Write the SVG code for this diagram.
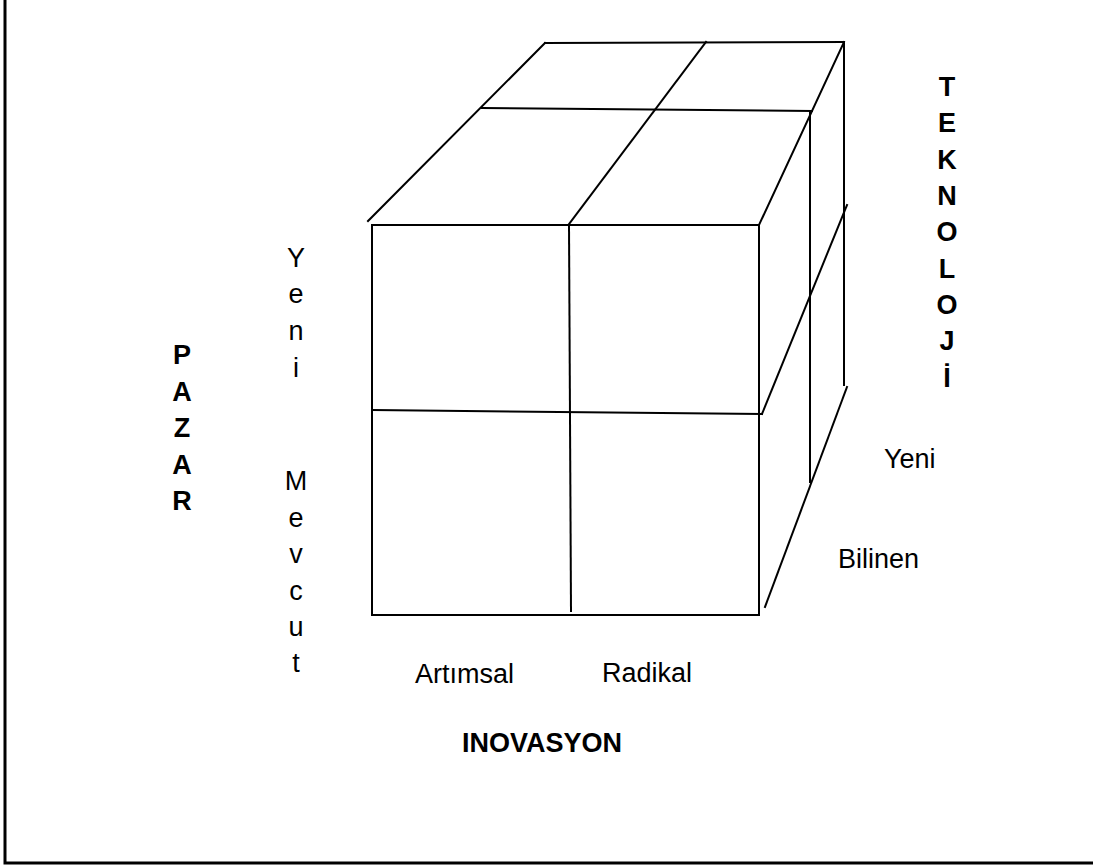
<svg xmlns="http://www.w3.org/2000/svg" width="1093" height="867" viewBox="0 0 1093 867">
<style>
.ln{stroke:#000;stroke-width:2;fill:none;stroke-linecap:square}
.bd{stroke:#000;stroke-width:3;fill:none}
.t{font-family:"Liberation Sans",Arial,sans-serif;font-size:27px;fill:#000}
.b{font-family:"Liberation Sans",Arial,sans-serif;font-size:27px;font-weight:bold;fill:#000}
.c{text-anchor:middle}
</style>
<rect width="1093" height="867" fill="#fff"/>
<g id="frame">
<path class="bd" d="M5,0 V863 H1093"/>
</g>
<g id="cube">
<path class="ln" d="M372,225 H759 V615 H372 Z"/>
<path class="ln" d="M569,225 L571,611"/>
<path class="ln" d="M373,410 L762,414"/>
<path class="ln" d="M368,221 L545,43"/>
<path class="ln" d="M545,43 L844,42"/>
<path class="ln" d="M482,108 L812,111"/>
<path class="ln" d="M706,42 L569,224"/>
<path class="ln" d="M844,42 L759,225"/>
<path class="ln" d="M844,42 V385"/>
<path class="ln" d="M810,111 V482"/>
<path class="ln" d="M762,414 L847,205"/>
<path class="ln" d="M847,387 L765,607"/>
</g>
<g id="teknoloji">
<text class="b c" x="947" y="96">T</text>
<text class="b c" x="947" y="132">E</text>
<text class="b c" x="947" y="169">K</text>
<text class="b c" x="947" y="205">N</text>
<text class="b c" x="947" y="241">O</text>
<text class="b c" x="947" y="278">L</text>
<text class="b c" x="947" y="314">O</text>
<text class="b c" x="947" y="350">J</text>
<text class="b c" x="947" y="387">İ</text>
</g>
<g id="pazar">
<text class="b c" x="182" y="364">P</text>
<text class="b c" x="182" y="401">A</text>
<text class="b c" x="182" y="437">Z</text>
<text class="b c" x="182" y="474">A</text>
<text class="b c" x="182" y="510">R</text>
</g>
<g id="pazar-yeni">
<text class="t c" x="296" y="267">Y</text>
<text class="t c" x="296" y="303">e</text>
<text class="t c" x="296" y="340">n</text>
<text class="t c" x="296" y="377">i</text>
</g>
<g id="pazar-mevcut">
<text class="t c" x="296" y="490">M</text>
<text class="t c" x="296" y="527">e</text>
<text class="t c" x="296" y="563">v</text>
<text class="t c" x="296" y="600">c</text>
<text class="t c" x="296" y="636">u</text>
<text class="t c" x="296" y="672">t</text>
</g>
<g id="tek-yeni"><text class="t" x="884" y="468">Yeni</text></g>
<g id="tek-bilinen"><text class="t" x="838" y="568">Bilinen</text></g>
<g id="inov-artimsal"><text class="t" x="415" y="683">Artımsal</text></g>
<g id="inov-radikal"><text class="t" x="602" y="682">Radikal</text></g>
<g id="inovasyon"><text class="b" x="462" y="752">INOVASYON</text></g>
</svg>
